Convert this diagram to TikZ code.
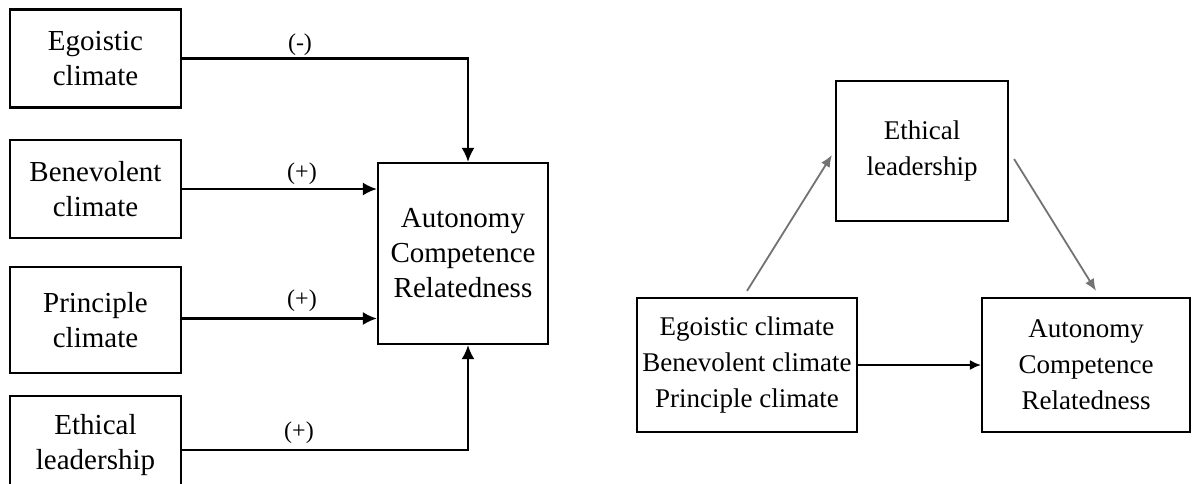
\documentclass[tikz,border=0pt]{standalone}
\usepackage{fontspec}
\setmainfont{Liberation Serif}
\usetikzlibrary{arrows.meta}
\begin{document}
\begin{tikzpicture}[x=1pt,y=-1pt,
  box/.style={draw,line width=2.2pt,rectangle,inner sep=0pt,align=center,
    font=\fontsize{29}{35}\selectfont},
  rbox/.style={draw,line width=2.2pt,rectangle,inner sep=0pt,align=center,
    font=\fontsize{27}{36}\selectfont},
  lab/.style={font=\fontsize{24}{26}\selectfont,inner sep=0pt},
  arr/.style={line width=2.2pt,-{Latex[length=14pt,width=13pt]}},
  garr/.style={line width=1.8pt,draw=black!55,-{Latex[length=12pt,width=10pt]}}]
\useasboundingbox[fill=white] (0,0) rectangle (1201,483);
% left diagram
\node[box,minimum width=171pt,minimum height=98pt] (ego) at (95.5,58.5) {Egoistic\\climate};
\node[box,minimum width=171pt,minimum height=98pt] (ben) at (95.5,189) {Benevolent\\climate};
\node[box,minimum width=171pt,minimum height=106pt] (pri) at (95.5,320) {Principle\\climate};
\node[box,minimum width=171pt,minimum height=98pt] (eth) at (95.5,445) {Ethical\\leadership};
\node[box,minimum width=170pt,minimum height=181pt] (out) at (463,253.5) {Autonomy\\Competence\\Relatedness};
\draw[arr] (ego.east) -| ([xshift=5pt]out.north);
\draw[arr] (ben.east) -- (ben.east -| out.west);
\draw[arr] ([yshift=1.5pt]pri.east) -- ([yshift=1.5pt]pri.east -| out.west);
\draw[arr] ([yshift=-5pt]eth.east) -| ([xshift=5pt]out.south);
\node[lab] (l1) at (300,45) {(-)};
\node[lab] (l2) at (302,174) {(+)};
\node[lab] (l3) at (302,301) {(+)};
\node[lab] (l4) at (299,433) {(+)};
% right diagram
\node[rbox,minimum width=172pt,minimum height=140pt] (el) at (922,151) {Ethical\\leadership};
\node[rbox,minimum width=220pt,minimum height=134pt] (cl) at (747,365) {Egoistic climate\\Benevolent climate\\Principle climate};
\node[rbox,minimum width=208pt,minimum height=134pt] (ar) at (1086,365) {Autonomy\\Competence\\Relatedness};
\draw[arr,line width=1.8pt,-{Latex[length=11pt,width=10pt]}] (cl.east) -- (ar.west);
\draw[garr] ([yshift=6pt]cl.north) -- ([xshift=-3pt,yshift=-4pt]el.west);
\draw[garr] ([xshift=5pt,yshift=-8pt]el.east) -- ([xshift=10pt,yshift=6pt]ar.north);
\end{tikzpicture}
\end{document}
